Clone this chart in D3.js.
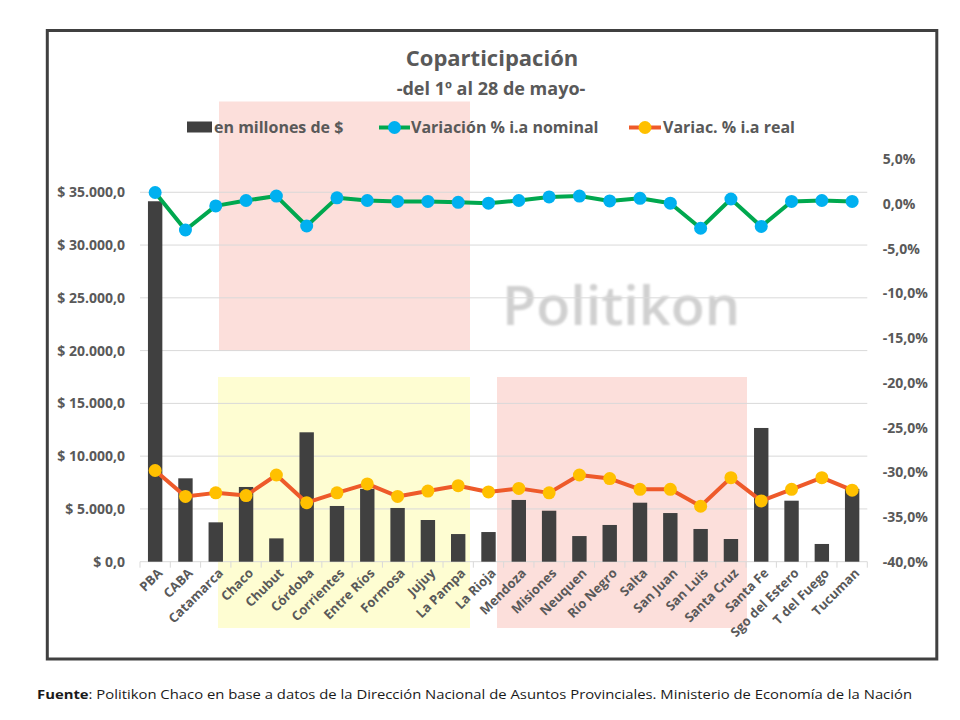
<!DOCTYPE html>
<html><head><meta charset="utf-8">
<script src="https://cdn.jsdelivr.net/npm/d3@7/dist/d3.min.js"></script>
<style>
html,body{margin:0;padding:0;background:#fff;}
svg{display:block;font-family:"Open Sans",sans-serif;}
</style></head>
<body>
<svg id="chart" width="960" height="720"></svg>
<script>
// ---- data ----
const provincias = ["PBA","CABA","Catamarca","Chaco","Chubut","Córdoba","Corrientes","Entre Ríos","Formosa","Jujuy","La Pampa","La Rioja","Mendoza","Misiones","Neuquen","Río Negro","Salta","San Juan","San Luis","Santa Cruz","Santa Fe","Sgo del Estero","T del Fuego","Tucuman"];
const millones = [34150,7900,3730,7080,2210,12260,5280,6900,5090,3950,2620,2810,5850,4830,2430,3480,5590,4610,3100,2150,12670,5780,1680,6900];
const varNominal = [1.3,-2.9,-0.2,0.4,0.9,-2.45,0.7,0.4,0.3,0.3,0.2,0.1,0.4,0.8,0.9,0.35,0.65,0.1,-2.7,0.57,-2.5,0.3,0.4,0.3];
const varReal = [-29.8,-32.7,-32.3,-32.6,-30.3,-33.4,-32.3,-31.3,-32.7,-32.1,-31.5,-32.2,-31.8,-32.3,-30.3,-30.7,-31.9,-31.9,-33.8,-30.6,-33.2,-31.9,-30.6,-32.0];
const leftTicks = [0,5000,10000,15000,20000,25000,30000,35000];
const rightTicks = [5,0,-5,-10,-15,-20,-25,-30,-35,-40];
const seriesNames = ["en millones de $","Variación % i.a nominal","Variac. % i.a real"];
const titleText = "Coparticipación";
const subtitleText = "-del 1º al 28 de mayo-";
const sourceBold = "Fuente";
const sourceText = ": Politikon Chaco en base a datos de la Dirección Nacional de Asuntos Provinciales. Ministerio de Economía de la Nación";

// ---- layout ----
const svg = d3.select("#chart");
const plot = {left:140, right:867.3, top:159.4, bottom:561.7};
const textCol = "#595959";
const colBar = "#404040", colGreen = "#00A84F", colBlue = "#00B0F0", colOrange = "#EE5A2A", colYellow = "#FFC000";

const x = d3.scaleBand().domain(provincias).range([plot.left, plot.right]).paddingInner(0.525).paddingOuter(0.2625);
const yL = d3.scaleLinear().domain([0, 38115]).range([plot.bottom, plot.top]);
const yR = d3.scaleLinear().domain([-40, 5]).range([plot.bottom, plot.top]);
const cx = d => x(d) + x.bandwidth()/2;

// background decorative shapes (behind chart)
const bg = svg.append("g");
bg.append("rect").attr("x",219).attr("y",101.5).attr("width",251).attr("height",249.5).attr("fill","#FCDFDB");
bg.append("rect").attr("x",218).attr("y",377).attr("width",252).attr("height",251).attr("fill","#FEFDD2");
bg.append("rect").attr("x",497).attr("y",377).attr("width",250).attr("height",251).attr("fill","#FCDFDB");

// border
svg.append("rect").attr("x",47.3).attr("y",30.5).attr("width",889.5).attr("height",628.5)
  .attr("fill","none").attr("stroke","#404040").attr("stroke-width",3);

// watermark
svg.append("defs").append("filter").attr("id","blur").append("feGaussianBlur").attr("stdDeviation",1.1);
svg.append("text").attr("x",502).attr("y",325).attr("font-size",54).attr("font-weight",600).attr("fill","#D0D0D0")
  .attr("textLength",238).attr("lengthAdjust","spacingAndGlyphs")
  .attr("filter","url(#blur)").text("Politikon");

// gridlines
svg.append("g").selectAll("line").data(leftTicks.filter(d=>d>0)).join("line")
  .attr("x1",plot.left).attr("x2",plot.right)
  .attr("y1",d=>yL(d)).attr("y2",d=>yL(d))
  .attr("stroke","#D9D9D9").attr("stroke-width",1);

// x axis
const xAxis = svg.append("g").attr("transform",`translate(0,${plot.bottom})`);
xAxis.append("line").attr("x1",plot.left).attr("x2",plot.right).attr("y1",0).attr("y2",0).attr("stroke","#D9D9D9");
const bounds = provincias.map(d => x(d) - x.step()*x.paddingInner()/2).concat([plot.right]);
xAxis.selectAll("line.tk").data(bounds).join("line").attr("class","tk")
  .attr("x1",d=>d).attr("x2",d=>d).attr("y1",0).attr("y2",6).attr("stroke","#D9D9D9");
xAxis.selectAll("text").data(provincias).join("text")
  .attr("transform",d=>`translate(${cx(d)+5},${9}) rotate(-45)`)
  .attr("text-anchor","end").attr("dy","0.35em")
  .attr("font-size",13).attr("font-weight","bold").attr("fill",textCol)
  .text(d=>d);

// left axis
const loc = d3.formatLocale({decimal:",",thousands:".",grouping:[3],currency:["$",""],minus:"-"});
const fmtL = d => "$ " + loc.format(",.1f")(d);
const axL = svg.append("g").attr("transform",`translate(${plot.left},0)`)
  .call(d3.axisLeft(yL).tickValues(leftTicks).tickFormat(fmtL).tickSize(0).tickPadding(15));
axL.select(".domain").remove();
axL.selectAll("text").attr("font-size",14).attr("font-weight","bold").attr("fill",textCol).attr("font-family","Open Sans");

// right axis
const fmtR = d => loc.format(".1f")(d) + "%";
const axR = svg.append("g").attr("transform",`translate(${plot.right},0)`)
  .call(d3.axisRight(yR).tickValues(rightTicks).tickFormat(fmtR).tickSize(0).tickPadding(15.5));
axR.select(".domain").remove();
axR.selectAll("text").attr("font-size",14).attr("font-weight","bold").attr("fill",textCol).attr("font-family","Open Sans");

// bars
svg.append("g").selectAll("rect").data(provincias).join("rect")
  .attr("x",d=>x(d)).attr("width",x.bandwidth())
  .attr("y",(d,i)=>yL(millones[i])).attr("height",(d,i)=>plot.bottom - yL(millones[i]))
  .attr("fill",colBar);

// lines
function drawLine(vals, lineCol, markCol){
  const line = d3.line().x((d,i)=>cx(provincias[i])).y(d=>yR(d));
  svg.append("path").datum(vals).attr("d",line).attr("fill","none")
    .attr("stroke",lineCol).attr("stroke-width",4).attr("stroke-linejoin","round");
  svg.append("g").selectAll("circle").data(vals).join("circle")
    .attr("cx",(d,i)=>cx(provincias[i])).attr("cy",d=>yR(d)).attr("r",6.5).attr("fill",markCol);
}
drawLine(varNominal, colGreen, colBlue);
drawLine(varReal, colOrange, colYellow);

// title
svg.append("text").attr("x",492).attr("y",66).attr("text-anchor","middle")
  .attr("font-size",22).attr("font-weight","bold").attr("fill",textCol).text(titleText);
svg.append("text").attr("x",491).attr("y",95).attr("text-anchor","middle")
  .attr("font-size",18).attr("font-weight","bold").attr("fill",textCol).text(subtitleText);

// legend
const lg = svg.append("g").attr("font-size",16).attr("font-weight","bold").attr("fill",textCol);
lg.append("rect").attr("x",187).attr("y",121.5).attr("width",25).attr("height",11).attr("fill",colBar);
lg.append("text").attr("x",214).attr("y",133).text(seriesNames[0]);
lg.append("line").attr("x1",379).attr("x2",410).attr("y1",127.5).attr("y2",127.5).attr("stroke",colGreen).attr("stroke-width",4);
lg.append("circle").attr("cx",394.5).attr("cy",127.5).attr("r",6.5).attr("fill",colBlue);
lg.append("text").attr("x",411).attr("y",133).text(seriesNames[1]);
lg.append("line").attr("x1",629).attr("x2",661).attr("y1",127.5).attr("y2",127.5).attr("stroke",colOrange).attr("stroke-width",4);
lg.append("circle").attr("cx",645).attr("cy",127.5).attr("r",6.5).attr("fill",colYellow);
lg.append("text").attr("x",663).attr("y",133).text(seriesNames[2]);

// source
const src = svg.append("text").attr("x",37).attr("y",699).attr("font-size",13).attr("fill","#1a1a1a")
  .attr("textLength",875).attr("lengthAdjust","spacingAndGlyphs");
src.append("tspan").attr("font-weight","bold").text(sourceBold);
src.append("tspan").text(sourceText);
</script>
</body></html>
